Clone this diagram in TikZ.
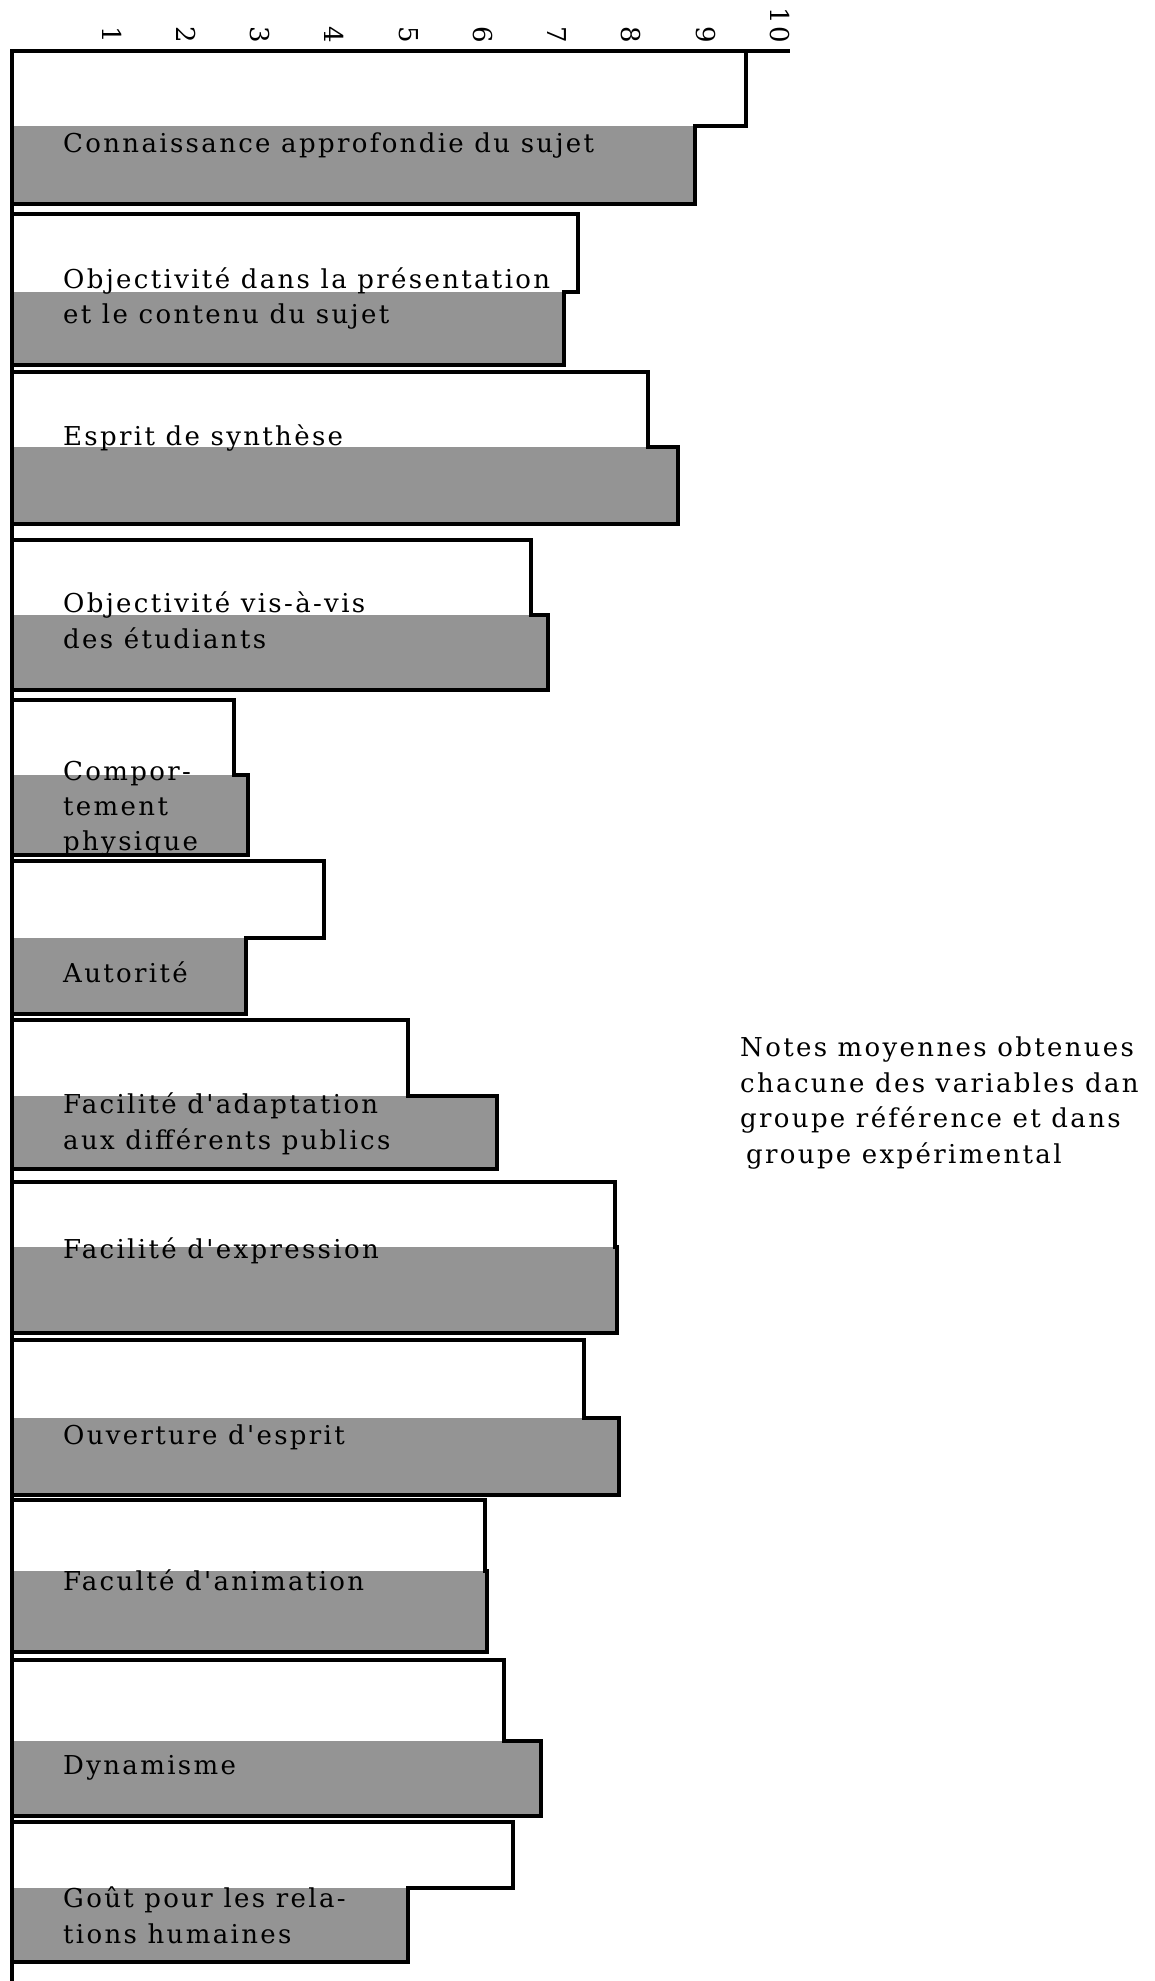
\documentclass[tikz,border=0pt]{standalone}
\usepackage{fontspec}
\newfontfamily\typed[LetterSpace=9]{DejaVu Serif}
\usepackage{tikz}
\definecolor{Halftone}{gray}{0.58}

\begin{document}
\begin{tikzpicture}[x=1pt,y=-1pt,font=\typed\fontsize{26}{36}\selectfont]
  \tikzstyle{barline}=[draw,line width=3.6pt]
  \tikzstyle{halftone}=[fill=Halftone]
  \tikzstyle{lbl}=[anchor=base west,inner sep=0pt]
  \tikzstyle{tick}=[rotate=-90,anchor=east,inner sep=0pt]
  \useasboundingbox (0,0) rectangle (1154,1981);
  % bars: top / white end / split / grey end / bottom
  \foreach \t/\w/\m/\g/\b in {51/746/126/695/204, 214/578/292/564/365, 372/648/447/678/524,
      540/531/615/548/690, 700/234/775/248/855, 861/324/938/246/1014, 1020/408/1096/497/1169,
      1182/615/1247/617/1333, 1340/584/1418/619/1495, 1500/485/1571/487/1652,
      1660/504/1741/541/1816, 1822/513/1888/408/1962}{
    \fill[halftone] (12,\m) rectangle (\g,\b);
    \draw[barline] (12,\t) -- (\w,\t) -- (\w,\m) -- (\g,\m) -- (\g,\b) -- (12,\b);
  }
  % axes
  \draw[line width=4.4pt] (12,1981) -- (12,51) -- (790,51);
  % scale
  \foreach \i in {1,...,10}
    \node[tick] (t\i) at ({112+74.2*(\i-1)},43) {\i};
  % variables
  \node[lbl] (c1) at (63,152) {Connaissance approfondie du sujet};
  \node[lbl] (c2a) at (63,288) {Objectivité dans la présentation};
  \node[lbl] (c2b) at (63,323) {et le contenu du sujet};
  \node[lbl] (c3) at (63,445) {Esprit de synthèse};
  \node[lbl] (c4a) at (63,612) {Objectivité vis-à-vis};
  \node[lbl] (c4b) at (63,648) {des étudiants};
  \node[lbl] (c5a) at (63,780) {Compor-};
  \node[lbl] (c5b) at (63,815) {tement};
  \node[lbl] (c5c) at (63,850) {physique};
  \node[lbl] (c6) at (63,982) {Autorité};
  \node[lbl] (c7a) at (63,1113) {Facilité d'adaptation};
  \node[lbl] (c7b) at (63,1149) {aux différents publics};
  \node[lbl] (c8) at (63,1258) {Facilité d'expression};
  \node[lbl] (c9) at (63,1444) {Ouverture d'esprit};
  \node[lbl] (c10) at (63,1590) {Faculté d'animation};
  \node[lbl] (c11) at (63,1774) {Dynamisme};
  \node[lbl] (c12a) at (63,1907) {Goût pour les rela-};
  \node[lbl] (c12b) at (63,1943) {tions humaines};
  % legend text
  \node[lbl] (n1) at (740,1056) {Notes moyennes obtenues};
  \node[lbl] (n2) at (740,1092) {chacune des variables dan};
  \node[lbl] (n3) at (740,1127) {groupe référence et dans};
  \node[lbl] (n4) at (746,1163) {groupe expérimental};
\end{tikzpicture}
\end{document}
